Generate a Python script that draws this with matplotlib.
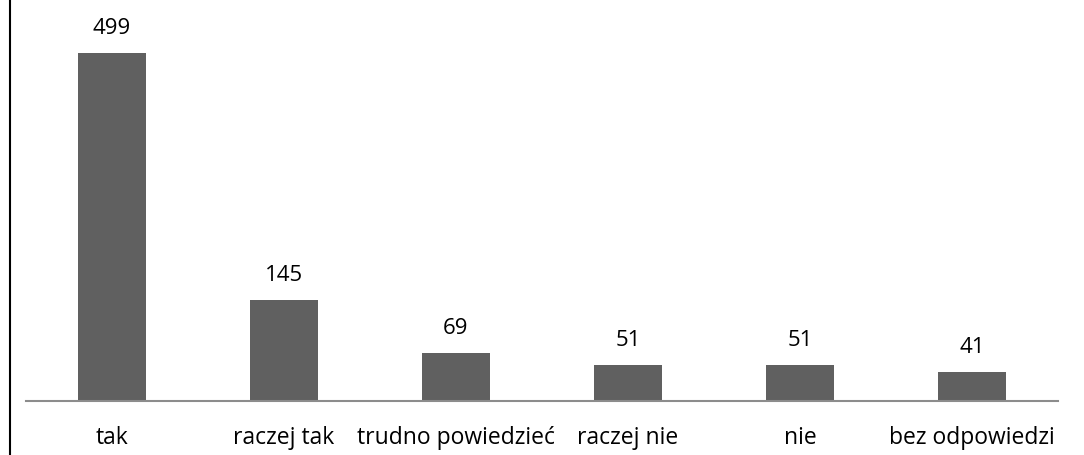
import matplotlib
matplotlib.use("Agg")
import matplotlib.pyplot as plt
from matplotlib.lines import Line2D

categories = ["tak", "raczej tak", "trudno powiedzieć", "raczej nie", "nie", "bez odpowiedzi"]
values = [499, 145, 69, 51, 51, 41]

plt.rcParams['font.family'] = ['Open Sans', 'DejaVu Sans']

W, H = 1084, 455
fig = plt.figure(figsize=(W / 100, H / 100), dpi=100)
ax = fig.add_axes([26 / W, (H - 401) / H, (1058 - 26) / W, 401 / H])

x = list(range(len(categories)))
bars = ax.bar(x, values, width=0.395, color="#606060", zorder=2)
ax.set_xlim(-0.5, len(categories) - 0.5)
ax.set_ylim(0, 575)

for b, v in zip(bars, values):
    ax.annotate(str(v), (b.get_x() + b.get_width() / 2, v), xytext=(0, 13.8),
                textcoords="offset points", ha="center", va="baseline",
                fontsize=16, color="#000000")

ax.set_xticks(x)
ax.set_xticklabels(categories, fontsize=16.5, color="#000000", va="baseline")
ax.tick_params(axis="x", length=0, pad=31)
ax.set_yticks([])
for s in ["top", "right", "left"]:
    ax.spines[s].set_visible(False)
ax.spines["bottom"].set_color("#8c8c8c")
ax.spines["bottom"].set_linewidth(1.5)
ax.patch.set_alpha(0)

fig.add_artist(Line2D([9.5 / W, 9.5 / W], [0, 1], color="#000000", linewidth=1.5,
                      transform=fig.transFigure))

fig.savefig("out.png", dpi=100, facecolor="white")
